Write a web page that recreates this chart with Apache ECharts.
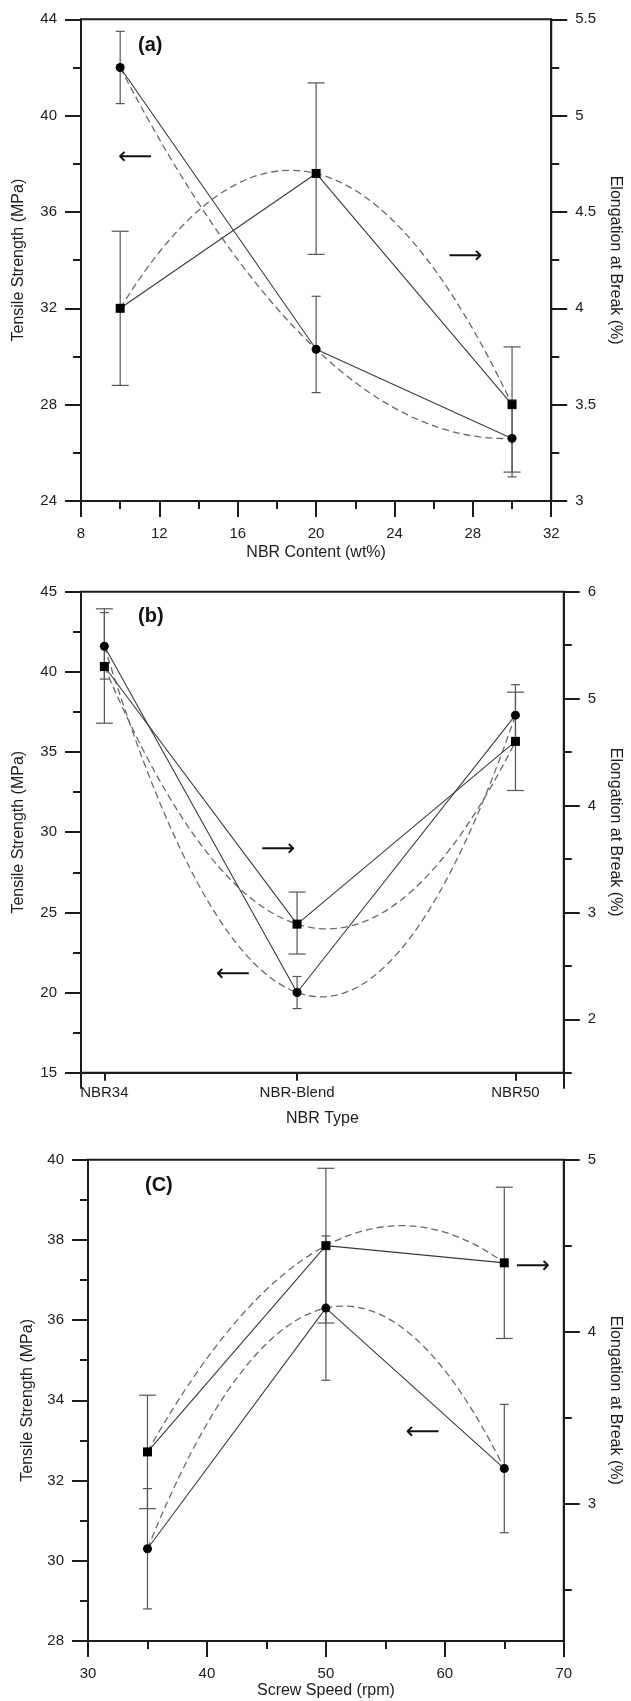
<!DOCTYPE html>
<html><head><meta charset="utf-8">
<script src="https://cdn.jsdelivr.net/npm/echarts@6/dist/echarts.min.js"></script>
<style>html,body{margin:0;padding:0;background:#fff}#c{width:631px;height:1701px}</style>
</head><body><div id="c"></div>
<script>
// ---------- Panel (a): NBR content ----------
const nbrContent = [10, 20, 30];
const tsA      = [42.0, 30.3, 26.6];
const tsA_low  = [40.5, 28.5, 25.0];
const tsA_high = [43.5, 32.5, 28.2];
const ebA      = [4.00, 4.70, 3.50];
const ebA_low  = [3.60, 4.28, 3.15];
const ebA_high = [4.40, 5.17, 3.80];
const ticksAx = [8, 12, 16, 20, 24, 28, 32];
const minorAx = [10, 14, 18, 22, 26, 30];
const ticksAyL = [24, 28, 32, 36, 40, 44];
const minorAyL = [26, 30, 34, 38, 42];
const ticksAyR = [3, 3.5, 4, 4.5, 5, 5.5];
const minorAyR = [3.25, 3.75, 4.25, 4.75, 5.25];

// ---------- Panel (b): NBR type ----------
const nbrTypes   = ['NBR34', 'NBR-Blend', 'NBR50'];
const nbrTypePos = [34, 41.5, 50];
const tsB      = [41.6, 20.0, 37.3];
const tsB_low  = [39.55, 19.0, 35.45];
const tsB_high = [43.7, 21.0, 39.2];
const ebB      = [5.30, 2.89, 4.60];
const ebB_low  = [4.77, 2.61, 4.14];
const ebB_high = [5.84, 3.19, 5.06];
const rangeBx  = [33.09, 51.88];
const ticksByL = [15, 20, 25, 30, 35, 40, 45];
const minorByL = [17.5, 22.5, 27.5, 32.5, 37.5, 42.5];
const ticksByR = [2, 3, 4, 5, 6];
const minorByR = [1.5, 2.5, 3.5, 4.5, 5.5];

// ---------- Panel (c): screw speed ----------
const screwSpeed = [35, 50, 65];
const tsC      = [30.3, 36.3, 32.3];
const tsC_low  = [28.8, 34.5, 30.7];
const tsC_high = [31.8, 38.1, 33.9];
const ebC      = [3.30, 4.50, 4.40];
const ebC_low  = [2.97, 4.05, 3.96];
const ebC_high = [3.63, 4.95, 4.84];
const ticksCx = [30, 40, 50, 60, 70];
const minorCx = [35, 45, 55, 65];
const ticksCyL = [28, 30, 32, 34, 36, 38, 40];
const minorCyL = [29, 31, 33, 35, 37, 39];
const ticksCyR = [3, 4, 5];
const minorCyR = [2.5, 3.5, 4.5];

const FONT = "'Liberation Sans', Arial, Helvetica, sans-serif";
const INK = '#1c1c1c';

function axisPair(gridIndex, position, min, max, majors, minors, labelVals, margin, fmt, name, nameGap, nameRotate) {
  const main = {
    type: 'value', gridIndex, position, min, max,
    axisLine: {show: true, onZero: false, lineStyle: {color: INK, width: 2}},
    axisTick: {show: true, inside: false, length: 16, customValues: majors, lineStyle: {color: INK, width: 2}},
    axisLabel: {show: true, customValues: labelVals, margin: margin, formatter: fmt,
      color: INK, fontFamily: FONT, fontSize: 15},
    splitLine: {show: false},
    name: name, nameLocation: 'middle', nameGap: nameGap,
    nameTextStyle: {color: INK, fontFamily: FONT, fontSize: 16}
  };
  if (nameRotate !== undefined) main.nameRotate = nameRotate;
  const minor = {
    type: 'value', gridIndex, position, min, max,
    axisLine: {show: false, onZero: false},
    axisTick: {show: true, inside: false, length: 8, customValues: minors, lineStyle: {color: INK, width: 2}},
    axisLabel: {show: false}, splitLine: {show: false}
  };
  return [main, minor];
}

function errSeries(xs, lows, highs, xi, yi, half) {
  return {
    type: 'custom', xAxisIndex: xi, yAxisIndex: yi, silent: true, z: 3,
    data: xs.map((x, i) => [x, lows[i], highs[i]]),
    encode: {x: 0, y: [1, 2]},
    renderItem: function (params, api) {
      const lo = api.coord([api.value(0), api.value(1)]);
      const hi = api.coord([api.value(0), api.value(2)]);
      const st = {stroke: '#555', lineWidth: 1.2, fill: 'none'};
      return {type: 'group', children: [
        {type: 'line', shape: {x1: lo[0], y1: lo[1], x2: hi[0], y2: hi[1]}, style: st},
        {type: 'line', shape: {x1: lo[0] - half, y1: lo[1], x2: lo[0] + half, y2: lo[1]}, style: st},
        {type: 'line', shape: {x1: hi[0] - half, y1: hi[1], x2: hi[0] + half, y2: hi[1]}, style: st}
      ]};
    }
  };
}

// quadratic fit through the three measured points, drawn as an exact quadratic Bezier
function fitSeries(xs, ys, xi, yi) {
  return {
    type: 'custom', xAxisIndex: xi, yAxisIndex: yi, silent: true, z: 2,
    data: [[xs[0], ys[0], xs[1], ys[1], xs[2], ys[2]]],
    encode: {x: [0, 2, 4], y: [1, 3, 5]},
    renderItem: function (params, api) {
      const p0 = api.coord([api.value(0), api.value(1)]);
      const p1 = api.coord([api.value(2), api.value(3)]);
      const p2 = api.coord([api.value(4), api.value(5)]);
      const t = (p1[0] - p0[0]) / (p2[0] - p0[0]);
      const k = 2 * t * (1 - t);
      const cx = (p1[0] - (1 - t) * (1 - t) * p0[0] - t * t * p2[0]) / k;
      const cy = (p1[1] - (1 - t) * (1 - t) * p0[1] - t * t * p2[1]) / k;
      return {type: 'bezierCurve',
        shape: {x1: p0[0], y1: p0[1], x2: p2[0], y2: p2[1], cpx1: cx, cpy1: cy},
        style: {stroke: '#6a6a6a', lineWidth: 1.3, lineDash: [7, 4], fill: 'none'}};
    }
  };
}

function arrowMark(ch, coord) {
  return {
    symbol: 'circle', symbolSize: 1, silent: true, animation: false,
    itemStyle: {color: 'rgba(0,0,0,0)'},
    label: {show: true, position: 'inside', formatter: ch, fontSize: 24,
      fontFamily: "'DejaVu Sans', sans-serif", color: '#111'},
    data: [{coord: coord}]
  };
}

function lineSeries(xs, ys, xi, yi, sym, size, mark) {
  const s = {
    type: 'line', xAxisIndex: xi, yAxisIndex: yi, z: 5,
    data: xs.map((x, i) => [x, ys[i]]),
    symbol: sym, symbolSize: size, showAllSymbol: true,
    itemStyle: {color: '#000'},
    lineStyle: {color: '#3a3a3a', width: 1.1},
    emphasis: {disabled: true}
  };
  if (mark) s.markPoint = mark;
  return s;
}

const nbrFmt = v => {
  let best = 0;
  nbrTypePos.forEach((p, i) => { if (Math.abs(p - v) < Math.abs(nbrTypePos[best] - v)) best = i; });
  return nbrTypes[best];
};

const grids = [
  {left: 81, top: 19.3, width: 483.3, height: 481.7},
  {left: 81, top: 591.7, width: 483, height: 481},
  {left: 88, top: 1159.7, width: 482.3, height: 481.3}
].map(g => Object.assign(g, {show: true, borderColor: INK, borderWidth: 2, backgroundColor: 'transparent', containLabel: false}));

const xAxes = [
  ...axisPair(0, 'bottom', 8, 32, ticksAx, minorAx, ticksAx, 25, null, 'NBR Content (wt%)', 44),
  ...axisPair(1, 'bottom', rangeBx[0], rangeBx[1], rangeBx, nbrTypePos, nbrTypePos, 13, nbrFmt, 'NBR Type', 38),
  ...axisPair(2, 'bottom', 30, 70, ticksCx, minorCx, ticksCx, 25, null, 'Screw Speed (rpm)', 42)
];
const yAxes = [
  ...axisPair(0, 'left', 24, 44, ticksAyL, minorAyL, ticksAyL, 24, null, 'Tensile Strength (MPa)', 54),
  ...axisPair(0, 'right', 3, 5.5, ticksAyR, minorAyR, ticksAyR, 24, null, 'Elongation at Break (%)', 43, -90),
  ...axisPair(1, 'left', 15, 45, ticksByL, minorByL, ticksByL, 24, null, 'Tensile Strength (MPa)', 54),
  ...axisPair(1, 'right', 1.5, 6, ticksByR, minorByR, ticksByR, 24, null, 'Elongation at Break (%)', 43, -90),
  ...axisPair(2, 'left', 28, 40, ticksCyL, minorCyL, ticksCyL, 24, null, 'Tensile Strength (MPa)', 52),
  ...axisPair(2, 'right', 2.2, 5, ticksCyR, minorCyR, ticksCyR, 24, null, 'Elongation at Break (%)', 41, -90)
];

const series = [
  // (a)
  fitSeries(nbrContent, tsA, 0, 0),
  fitSeries(nbrContent, ebA, 0, 2),
  errSeries(nbrContent, tsA_low, tsA_high, 0, 0, 4.5),
  errSeries(nbrContent, ebA_low, ebA_high, 0, 2, 8.5),
  lineSeries(nbrContent, tsA, 0, 0, 'circle', 9, arrowMark('⟵', [10.77, 38.25])),
  lineSeries(nbrContent, ebA, 0, 2, 'rect', 9, arrowMark('⟶', [27.62, 4.27])),
  // (b)
  fitSeries(nbrTypePos, tsB, 2, 4),
  fitSeries(nbrTypePos, ebB, 2, 6),
  errSeries(nbrTypePos, tsB_low, tsB_high, 2, 4, 4.5),
  errSeries(nbrTypePos, ebB_low, ebB_high, 2, 6, 8.5),
  lineSeries(nbrTypePos, tsB, 2, 4, 'circle', 9, arrowMark('⟵', [39.0, 21.1])),
  lineSeries(nbrTypePos, ebB, 2, 6, 'rect', 9, arrowMark('⟶', [40.77, 3.59])),
  // (c)
  fitSeries(screwSpeed, tsC, 4, 8),
  fitSeries(screwSpeed, ebC, 4, 10),
  errSeries(screwSpeed, tsC_low, tsC_high, 4, 8, 4.5),
  errSeries(screwSpeed, ebC_low, ebC_high, 4, 10, 8.5),
  lineSeries(screwSpeed, tsC, 4, 8, 'circle', 9, arrowMark('⟵', [58.15, 33.2])),
  lineSeries(screwSpeed, ebC, 4, 10, 'rect', 9, arrowMark('⟶', [67.4, 4.38]))
];

const panelTitle = (t, left, top) => ({text: t, left: left, top: top, padding: 0,
  textStyle: {fontFamily: FONT, fontWeight: 'bold', fontSize: 20, color: '#111'}});

const chart = echarts.init(document.getElementById('c'), null, {renderer: 'canvas'});
chart.setOption({
  animation: false,
  backgroundColor: '#fff',
  title: [panelTitle('(a)', 138, 35), panelTitle('(b)', 138, 606), panelTitle('(C)', 145, 1175)],
  grid: grids,
  xAxis: xAxes,
  yAxis: yAxes,
  series: series
});
</script></body></html>
